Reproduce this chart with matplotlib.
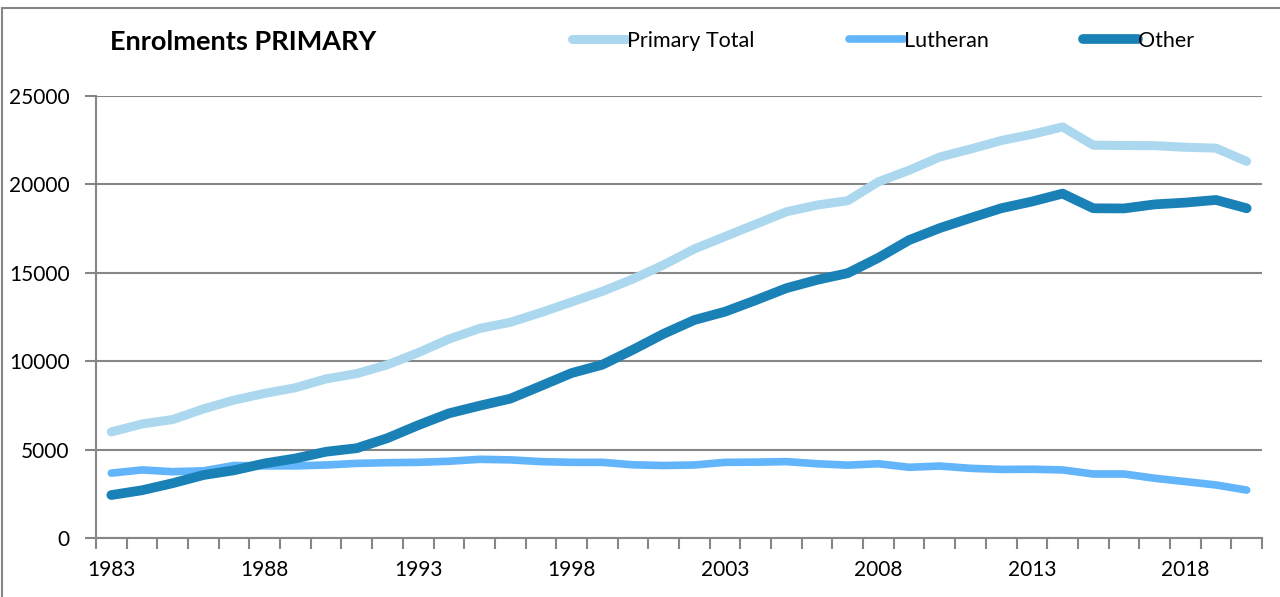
import matplotlib.pyplot as plt
from matplotlib.patches import Rectangle

plt.rcParams['font.family'] = ['Lato', 'DejaVu Sans']

years = list(range(1983, 2021))

primary_total = [6000, 6450, 6700, 7300, 7800, 8180, 8500, 9000, 9300, 9800,
                 10480, 11250, 11850, 12200, 12750, 13350, 13950, 14650, 15450, 16350,
                 17050, 17750, 18450, 18830, 19080, 20150, 20800, 21550, 22000, 22480,
                 22830, 23250, 22220, 22200, 22190, 22100, 22050, 21300]
lutheran = [3670, 3850, 3750, 3800, 4100, 4080, 4080, 4130, 4220, 4260,
            4280, 4340, 4450, 4420, 4320, 4280, 4280, 4140, 4100, 4130,
            4280, 4290, 4320, 4200, 4120, 4200, 4000, 4070, 3940, 3880,
            3890, 3850, 3620, 3620, 3380, 3190, 3000, 2710]
other = [2430, 2700, 3100, 3560, 3830, 4220, 4500, 4880, 5080, 5650,
         6380, 7050, 7480, 7880, 8600, 9330, 9800, 10650, 11550, 12330,
         12800, 13450, 14130, 14600, 14980, 15850, 16850, 17530, 18100, 18650,
         19030, 19480, 18650, 18640, 18870, 18970, 19120, 18650]

series = [("Primary Total", primary_total, "#abd8ee", 6.5),
          ("Lutheran", lutheran, "#62b5fa", 5.5),
          ("Other", other, "#1a81b7", 7.0)]

fig = plt.figure(figsize=(12.8, 5.97), dpi=100)
ax = fig.add_axes([96 / 1280, 59 / 597, 1166 / 1280, 442 / 597])

for name, vals, col, lw in series:
    ax.plot(years, vals, color=col, lw=lw, label=name,
            solid_capstyle="round", solid_joinstyle="round")

ax.set_xlim(1982.5, 2020.5)
ax.set_ylim(0, 25000)
ax.set_yticks(range(0, 25001, 5000))
ax.set_xticks(range(1983, 2021, 5))
ax.set_xticks([y - 0.5 for y in range(1983, 2022)], minor=True)
ax.tick_params(axis="x", which="major", length=0, pad=16, labelsize=15)
ax.tick_params(axis="x", which="minor", length=8, width=1.5, color="#868686")
ax.tick_params(axis="y", length=8, width=1.5, color="#868686", labelsize=15, pad=11)
ax.grid(axis="y", color="#868686", lw=1.5)
ax.set_axisbelow(True)
for s in ["top", "right"]:
    ax.spines[s].set_visible(False)
for s in ["left", "bottom"]:
    ax.spines[s].set_color("#868686")
    ax.spines[s].set_linewidth(1.5)

fig.text(110 / 1280, 1 - 42 / 597, "Enrolments PRIMARY", fontsize=19.5,
         fontweight="bold", va="center", ha="left")

fig.legend(loc="center left", bbox_to_anchor=(561 / 1280, 1 - 41 / 597),
           ncol=3, frameon=False, fontsize=15.5, handlelength=2.55,
           handletextpad=0.0, columnspacing=4.4, borderpad=0)

fig.patches.append(Rectangle((2 / 1280, -0.1), 1.2, 1 - 8 / 597 + 0.1,
                             transform=fig.transFigure, fill=False,
                             edgecolor="#868686", lw=1.5))

fig.savefig("out.png", dpi=100)
